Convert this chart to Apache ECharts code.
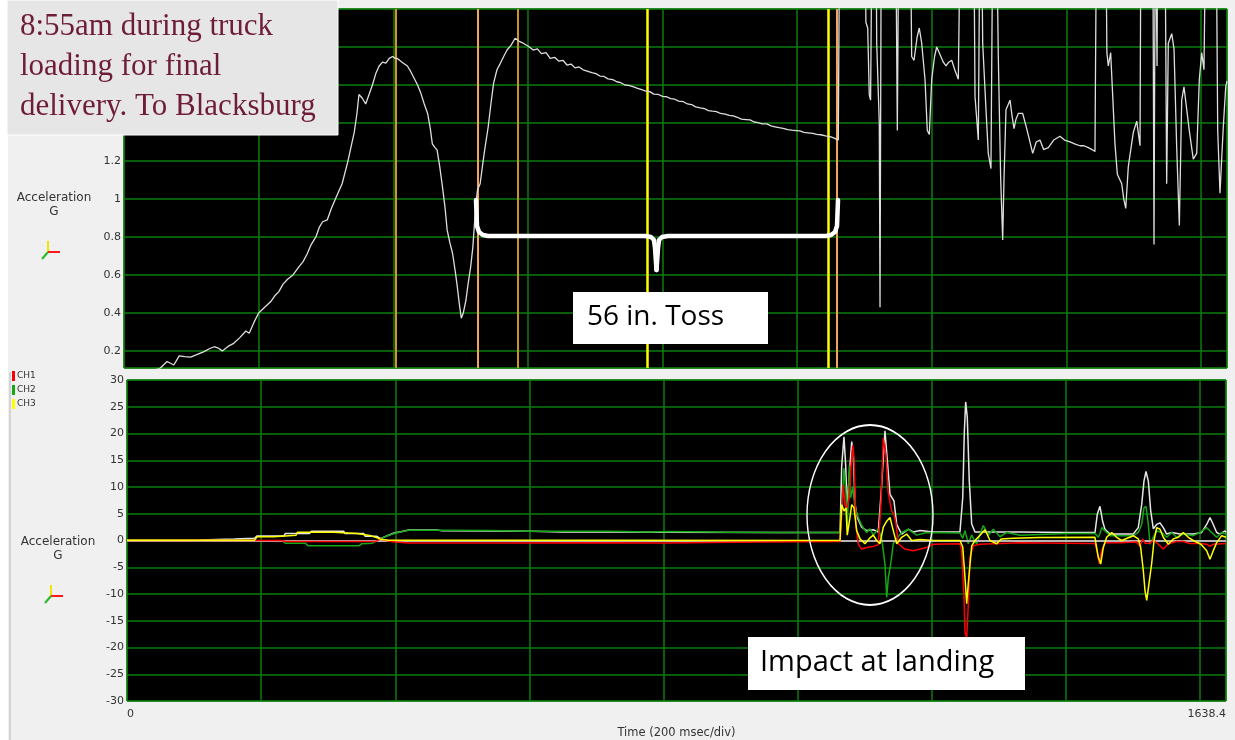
<!DOCTYPE html>
<html>
<head>
<meta charset="utf-8">
<script src="https://cdn.jsdelivr.net/npm/echarts@6/dist/echarts.min.js"></script>
<style>
  html, body { margin: 0; padding: 0; background: #f0f0f0; }
  #main { width: 1235px; height: 740px; }
</style>
</head>
<body>
<div id="main"></div>
<script>
// top panel: resultant acceleration (G), zoomed, [time ms, G]
var resultantZoom = [
  [0,0.05],[30,0.08],[54,0.11],[64,0.144],[74,0.126],[82,0.174],[90,0.17],[99,0.167],[108,0.18],[119,0.196],
  [126,0.21],[134,0.222],[140,0.215],[146,0.2],[155,0.225],[163,0.24],[172,0.27],[181,0.305],[186,0.293],[193,0.35],
  [200,0.4],[209,0.43],[218,0.46],[224,0.49],[230,0.512],[236,0.55],[243,0.577],[251,0.6],[260,0.644],[266,0.67],
  [272,0.71],[278,0.76],[285,0.8],[290,0.85],[295,0.88],[302,0.89],[308,0.95],[314,1.0],[319,1.04],[324,1.08],
  [332,1.19],[337,1.27],[342,1.35],[346,1.45],[349,1.55],[354,1.53],[359,1.5],[364,1.55],[369,1.6],[374,1.66],
  [379,1.7],[384,1.72],[389,1.715],[394,1.74],[399,1.75],[403,1.74],[406,1.74],[413,1.72],[421,1.7],[426,1.67],
  [431,1.635],[436,1.6],[441,1.556],[446,1.5],[451,1.45],[455,1.37],[458,1.29],[462,1.27],[465,1.258],[469,1.17],
  [473,1.065],[477,0.95],[480,0.837],[484,0.77],[488,0.714],[492,0.62],[495,0.54],[498,0.45],[501,0.372],[504,0.4],
  [508,0.468],[511,0.55],[515,0.644],[518,0.74],[520,0.837],[522,0.94],[525,1.047],[529,1.08],[535,1.24],[541,1.38],
  [545,1.5],[549,1.61],[554,1.68],[559,1.714],[564,1.75],[569,1.784],[575,1.81],[581,1.846],[587,1.83],[593,1.82],
  [600,1.805],[608,1.784],[614,1.79],[620,1.765],[627,1.77],[633,1.74],[640,1.745],[646,1.725],[652,1.73],[658,1.705],
  [664,1.71],[670,1.69],[676,1.695],[682,1.68],[689,1.672],[695,1.665],[701,1.66],[707,1.647],[713,1.645],[719,1.632],
  [726,1.628],[732,1.617],[738,1.612],[744,1.6],[750,1.598],[757,1.59],[763,1.582],[769,1.575],[775,1.568],[781,1.565],
  [787,1.552],[794,1.55],[800,1.54],[806,1.538],[812,1.528],[818,1.525],[824,1.515],[831,1.512],[837,1.5],[843,1.497],
  [849,1.485],[856,1.48],[862,1.476],[868,1.465],[874,1.462],[880,1.46],[886,1.45],[893,1.446],[899,1.44],[905,1.437],
  [911,1.43],[917,1.42],[924,1.418],[930,1.416],[936,1.405],[942,1.402],[948,1.395],[955,1.395],[961,1.385],[967,1.38],
  [973,1.375],[979,1.372],[986,1.365],[992,1.362],[998,1.36],[1004,1.358],[1010,1.35],[1016,1.348],[1023,1.345],[1029,1.34],
  [1035,1.338],[1042,1.332],[1049,1.328],[1055,1.32],[1061,1.31],
  [1064,3.0],[1100,3.0],[1102,1.93],[1104.7,1.9],[1107,1.55],[1109,1.52],[1111,2.4],[1117,2.4],[1118.1,1.82],[1121.9,1.4],
  [1123,0.43],[1125,2.6],[1146,2.6],[1148.7,1.36],[1151,2.5],[1168,2.5],[1170,1.75],[1173.5,1.73],[1178,1.85],[1181.3,1.9],
  [1184.9,1.82],[1189.8,1.63],[1193.2,1.36],[1196.2,1.34],[1199.8,1.63],[1204,1.75],[1207.2,1.8],[1212.1,1.76],[1217,1.72],[1221,1.7],
  [1225,1.72],[1229.5,1.73],[1234,1.68],[1239.3,1.63],[1242.8,2.6],[1262,2.6],[1264.1,1.54],[1269,1.31],[1271.5,2.5],[1274,2.4],
  [1275.5,1.82],[1280,1.5],[1283.8,1.24],[1287.8,1.16],[1290.4,2.4],[1296.3,2.4],[1298.7,1.75],[1302.2,1.11],[1305.2,0.784],[1307.2,1.11],
  [1310.1,1.47],[1316.1,1.52],[1319,1.44],[1322,1.37],[1325,1.42],[1328.4,1.45],[1334.9,1.45],[1340.9,1.37],[1349.8,1.24],[1355,1.3],
  [1360.6,1.31],[1366,1.26],[1373,1.27],[1381,1.31],[1390.3,1.33],[1397,1.31],[1405.2,1.3],[1412,1.29],[1420,1.28],[1426,1.28],
  [1432.4,1.27],[1438,1.26],[1442.3,1.25],[1444.8,2.6],[1458,2.6],[1460,1.77],[1462.1,1.7],[1465.6,1.77],[1472,1.29],[1475.5,1.13],
  [1482,1.08],[1485,1.0],[1488,0.95],[1491.8,1.17],[1499.2,1.35],[1504.3,1.41],[1509.2,1.28],[1510.7,2.6],[1528,2.6],[1530,0.76],
  [1532,2.6],[1533,2.6],[1534.5,1.7],[1535.5,2.6],[1546,2.6],[1548.8,1.08],[1551.2,1.82],[1556.3,1.87],[1559.7,1.79],[1563.7,1.27],
  [1567.6,0.86],[1571.1,1.52],[1574.5,1.59],[1582.4,1.36],[1588.3,1.21],[1593.4,1.24],[1597.3,1.63],[1600.8,1.77],[1604.2,1.68],[1607.2,2.6],
  [1622,2.6],[1624.6,1.36],[1628,1.03],[1630.5,1.21],[1632.9,1.38],[1636.5,1.59],[1638.4,1.62]
];
var cursorTimes = [404, 526, 585, 777, 1046, 1059];
var cursorColors = ['#d8922c', '#f4a35a', '#c8922c', '#ffff00', '#ffff00', '#f4a35a'];
var cursorWidths = [2, 2, 2, 2.5, 2.5, 2];

// bottom panel: [time ms, G]
var resultant = [
  [0,0.05],[108,0.1],[160,0.3],[190,0.43],[194,0.86],[234,0.86],[236,1.3],[272,1.3],[275,1.73],[323,1.73],
  [325,1.3],[353,1.3],[355,0.8],[372,0.8],[378,0.35],[388,0.9],[398,1.4],[408,1.65],[420,1.95],[462,1.95],
  [470,1.8],[543,1.78],[602,1.75],[650,1.6],[722,1.58],[805,1.55],[969,1.5],[1063,1.48],
  [1065.5,14],[1068.9,19.4],[1071.4,14],[1073.8,6.1],[1075.9,10.5],[1077.8,14],[1080.4,18.5],[1082.8,16],[1085.3,6.9],[1088.7,4.3],
  [1095.3,2.5],[1102.7,1.85],[1112.6,2.0],[1120,1.6],[1125.1,10.4],[1130,20.5],[1134.1,14],[1137.5,8.6],[1143.4,7.4],[1147.5,3.0],
  [1154.9,1.2],[1164.8,2.1],[1172.2,1.6],[1182.2,1.85],[1202,1.6],[1241.8,1.6],[1245.9,8],[1248.3,20.3],[1250.3,25.9],[1252.7,23],
  [1255.7,11.1],[1259.3,3.1],[1264.2,1.6],[1281.6,1.6],[1331.3,1.6],[1400,1.5],[1443.1,1.5],[1446.5,4.9],[1450.5,6.4],[1454.6,3.5],
  [1458,2.1],[1465.5,1.2],[1480.4,1.2],[1500.2,1.2],[1507.6,2.4],[1512.7,6.7],[1516.1,11.1],[1519.1,12.9],[1522.6,11.1],[1526.1,5.6],
  [1530,2.2],[1535.1,3.0],[1540,3.3],[1544.9,2.4],[1550,1.2],[1557.4,1.5],[1569.8,1.2],[1589.6,1.2],[1602.2,1.5],[1609.6,3.0],
  [1614.5,4.3],[1619.4,3.0],[1624.5,1.5],[1629.4,1.2],[1636.9,1.8],[1638.4,1.5]
];
var ch1 = [
  [0,0.0],[120,0.05],[230,0.0],[236,-0.2],[370,-0.2],[378,0.25],[390,-0.1],[400,-0.3],[420,-0.45],[560,-0.45],
  [700,-0.4],[800,-0.45],[900,-0.35],[1000,-0.25],[1063,-0.2],
  [1066,6],[1067.9,10.4],[1070.4,6.5],[1072.9,6.1],[1076.8,8],[1079.5,14],[1081.9,17.8],[1083.8,15.4],[1086.8,2.8],[1090.2,-0.7],
  [1095.3,-1.6],[1102.7,-1.3],[1112.6,-1.1],[1120,-0.8],[1124,6.9],[1127.5,19.1],[1131.5,16],[1134.7,9.1],[1140,5.5],[1143.4,4.9],
  [1146.4,3.1],[1149.9,-0.6],[1159.8,-1.6],[1172.2,-1.9],[1192.2,-1.3],[1202,-0.7],[1241.8,-0.6],[1244.3,-1.9],[1247.8,-10.6],[1249.3,-17],
  [1251.8,-18.5],[1254.2,-12],[1256.7,-3.1],[1261.7,-1.0],[1271.6,-0.7],[1331.3,-0.4],[1400,-0.5],[1443.1,-0.56],[1446,-1.9],[1449.5,-4.3],
  [1453.1,-1.9],[1458,-0.4],[1480.4,-0.4],[1505.2,-0.3],[1510.2,-1.1],[1514.2,0.3],[1517.6,-0.5],[1525.1,-0.5],[1530,0.1],[1537.5,-0.7],
  [1544.9,-1.6],[1552.4,-0.6],[1564.9,-0.2],[1574.7,-0.2],[1584.7,-0.56],[1600,-0.56],[1609.6,-0.7],[1614.5,-1.1],[1619.4,-0.7],[1638.4,-0.56]
];
var ch2 = [
  [0,0.05],[120,0.0],[194,-0.05],[232,-0.1],[236,-0.5],[266,-0.5],[270,-1.0],[346,-1.0],[350,-0.6],[366,-0.5],
  [378,0.3],[388,0.86],[398,1.3],[408,1.6],[420,1.9],[470,1.9],[540,1.88],[600,1.75],[720,1.72],[780,1.6],
  [806,1.66],[900,1.55],[969,1.48],[1063,1.48],
  [1065.5,6.1],[1068.9,13.5],[1071.9,8.8],[1073.8,2.5],[1076.8,14],[1078.9,8],[1081.9,10],[1085.3,6.1],[1090.2,4.3],[1095.3,2.8],
  [1102.7,1.5],[1107.7,2.2],[1112.6,1.0],[1120,2.2],[1125.1,0.4],[1127.5,-2],[1130,-4.4],[1132.6,-10.6],[1135,-6.9],[1138.5,-4.4],
  [1142.4,-0.6],[1147.5,0.4],[1154.9,1.5],[1164.8,2.1],[1177.3,1.0],[1192.2,1.5],[1241.8,1.4],[1245.9,0.4],[1249.3,1.85],[1254.2,-0.6],
  [1259.3,1.0],[1264.2,-0.2],[1266.7,-0.6],[1276.6,2.8],[1284,1.0],[1291.5,2.1],[1301.5,0.7],[1311.5,1.5],[1331.3,1.0],[1400,1.3],
  [1443.1,1.3],[1448,0.6],[1450.5,1.3],[1453.1,2.4],[1458,1.8],[1465.5,0.9],[1500.2,0.9],[1507.6,1.5],[1512.7,3.0],[1516.1,6.1],
  [1519.1,6.4],[1522.6,3.0],[1525.1,-0.7],[1530,0.6],[1535.1,1.8],[1542.5,1.5],[1550,0.6],[1557.4,1.5],[1564.9,0.6],[1574.7,1.2],
  [1589.6,0.9],[1599.6,1.5],[1609.6,2.4],[1617.1,1.5],[1624.5,0.6],[1632,1.5],[1638.4,1.2]
];
var ch3 = [
  [0,0.05],[190,0.05],[194,0.68],[219,0.68],[220,0.99],[252,0.99],[254,1.54],[308,1.54],[310,1.3],[343,1.3],
  [345,0.93],[362,0.93],[364,0.56],[372,0.56],[378,0.25],[390,0.05],[700,0.05],[1063,0.0],
  [1065.5,6.7],[1068.9,5.5],[1071.9,6.1],[1073.8,1.0],[1077.8,4.3],[1080.4,6.7],[1083.8,6.1],[1087.8,1.85],[1092.8,0.3],[1100.2,-0.6],
  [1107.7,0.5],[1112.6,1.0],[1117.6,0.0],[1122.6,-0.6],[1127.5,2.5],[1132.6,3.6],[1137.5,4.3],[1142.4,1.85],[1147.5,-0.6],[1154.9,0.6],
  [1162.4,1.2],[1169.8,0.0],[1182.2,0.2],[1202,0.0],[1241.8,0.0],[1245.9,-1.2],[1249.3,-6.9],[1251.8,-11.8],[1254.2,-8],[1259.3,-1.0],
  [1264.2,0.0],[1271.6,1.0],[1279.1,2.0],[1286.6,0.0],[1296.6,-0.6],[1303.3,0.3],[1321.3,0.4],[1360,0.55],[1443.1,0.6],[1444.6,-0.7],
  [1448,-3.1],[1451.6,-4.4],[1455.5,-1.3],[1460.5,0.6],[1468,1.5],[1475.4,0.6],[1482.9,0.0],[1500.2,0.9],[1507.6,0.3],[1511.2,-1.3],
  [1515.1,-5.6],[1517.6,-9.3],[1520.2,-11.2],[1523.6,-8],[1527.6,-4.3],[1531.1,0.0],[1535.1,2.4],[1540,2.1],[1544.9,0.6],[1552.4,-0.7],
  [1559.8,0.3],[1567.3,0.6],[1574.7,1.5],[1582.2,0.6],[1589.6,0.0],[1601,-0.7],[1609.6,-1.9],[1614.5,-3.5],[1619.4,-1.9],[1624.5,-0.4],
  [1632,0.9],[1638.4,0.6]
];
var timeMax = 1638.4;

var gridGreen = '#0b7d0b';
var tickFont = { fontFamily: 'DejaVu Sans', fontSize: 11, color: '#333' };

var myChart = echarts.init(document.getElementById('main'));

function axisIcon(x, y) {
  return [
    { type: 'line', z: 50, shape: { x1: x, y1: y, x2: x, y2: y - 11 }, style: { stroke: '#f2e600', lineWidth: 2 } },
    { type: 'line', z: 50, shape: { x1: x, y1: y, x2: x + 12, y2: y }, style: { stroke: '#ff1a1a', lineWidth: 2 } },
    { type: 'line', z: 50, shape: { x1: x, y1: y, x2: x - 6, y2: y + 7 }, style: { stroke: '#22bb22', lineWidth: 2 } }
  ];
}

var braceStyle = { stroke: '#ffffff', lineWidth: 4.5, fill: null, lineJoin: 'round', lineCap: 'round' };

var graphics = [
  { type: 'rect', z: 40, shape: { x: 0, y: 0, width: 8, height: 740 }, style: { fill: '#ffffff' } },
  { type: 'line', z: 40, shape: { x1: 10, y1: 372, x2: 10, y2: 740 }, style: { stroke: '#b8b8b8', lineWidth: 1 } },
  // title box
  { type: 'rect', z: 100, shape: { x: 7, y: 0, width: 331, height: 135 }, style: { fill: '#e6e6e6', stroke: '#ffffff', lineWidth: 1 } },
  { type: 'text', z: 101, style: { x: 20, y: 27, text: '8:55am during truck', font: '31px "Liberation Serif"', fill: '#6e1c3a', verticalAlign: 'middle' } },
  { type: 'text', z: 101, style: { x: 20, y: 67, text: 'loading for final', font: '31px "Liberation Serif"', fill: '#6e1c3a', verticalAlign: 'middle' } },
  { type: 'text', z: 101, style: { x: 20, y: 107, text: 'delivery. To Blacksburg', font: '31px "Liberation Serif"', fill: '#6e1c3a', verticalAlign: 'middle' } },
  // y axis captions
  { type: 'text', z: 50, style: { x: 54, y: 198, text: 'Acceleration', font: '12px "DejaVu Sans"', fill: '#333', align: 'center', verticalAlign: 'middle' } },
  { type: 'text', z: 50, style: { x: 54, y: 212, text: 'G', font: '12px "DejaVu Sans"', fill: '#333', align: 'center', verticalAlign: 'middle' } },
  { type: 'text', z: 50, style: { x: 58, y: 542, text: 'Acceleration', font: '12px "DejaVu Sans"', fill: '#333', align: 'center', verticalAlign: 'middle' } },
  { type: 'text', z: 50, style: { x: 58, y: 556, text: 'G', font: '12px "DejaVu Sans"', fill: '#333', align: 'center', verticalAlign: 'middle' } },
  // brace
  { type: 'polyline', z: 100, shape: { points: [[476, 200], [477, 226], [479, 232], [483, 235], [488, 236], [645, 236], [651, 237], [654, 240], [655, 248], [656.5, 270]] }, style: braceStyle },
  { type: 'polyline', z: 100, shape: { points: [[656.5, 270], [658, 248], [659, 240], [662, 237], [668, 236], [826, 236], [831, 235], [835, 232], [837, 226], [838, 200]] }, style: braceStyle },
  // toss label
  { type: 'rect', z: 100, shape: { x: 573, y: 292, width: 195, height: 52 }, style: { fill: '#ffffff' } },
  { type: 'text', z: 101, style: { x: 587, y: 317, text: '56 in. Toss', font: '28px "Open Sans"', fill: '#000', verticalAlign: 'middle' } },
  // impact ellipse (circle squeezed horizontally) + label
  { type: 'circle', z: 100, x: 870, y: 515, scaleX: 0.7, scaleY: 1, shape: { cx: 0, cy: 0, r: 90 },
    style: { stroke: '#ffffff', lineWidth: 2, fill: null, strokeNoScale: true } },
  { type: 'rect', z: 100, shape: { x: 748, y: 637, width: 277, height: 53 }, style: { fill: '#ffffff' } },
  { type: 'text', z: 101, style: { x: 760, y: 663, text: 'Impact at landing', font: '29px "Open Sans"', fill: '#000', verticalAlign: 'middle' } }
].concat(axisIcon(48, 252)).concat(axisIcon(51, 596));

myChart.setOption({
  animation: false,
  backgroundColor: '#f0f0f0',
  legend: {
    data: ['CH1', 'CH2', 'CH3'],
    orient: 'vertical',
    left: 12,
    top: 371,
    padding: 0,
    icon: 'rect',
    itemWidth: 3,
    itemHeight: 10,
    itemGap: 4,
    textStyle: { fontFamily: 'DejaVu Sans', fontSize: 9, color: '#333', padding: [0, 0, 0, -3] }
  },
  grid: [
    { left: 124, top: 9, width: 1103, height: 359, show: true, backgroundColor: '#000', borderColor: gridGreen, borderWidth: 1 },
    { left: 127, top: 380, width: 1099, height: 325, show: true, backgroundColor: '#000', borderColor: gridGreen, borderWidth: 1 }
  ],
  xAxis: [
    {
      gridIndex: 0, type: 'value', min: 0, max: timeMax, interval: 200,
      axisLine: { show: false }, axisTick: { show: false }, axisLabel: { show: false },
      splitLine: { lineStyle: { color: gridGreen, width: 1.5 } }
    },
    {
      gridIndex: 1, type: 'value', min: 0, max: timeMax, interval: 200,
      name: 'Time (200 msec/div)', nameLocation: 'middle', nameGap: 26,
      nameTextStyle: { fontFamily: 'DejaVu Sans', fontSize: 11.5, color: '#333' },
      axisLine: { show: false }, axisTick: { show: false },
      axisLabel: Object.assign({
        margin: 8,
        alignMinLabel: 'left', alignMaxLabel: 'right',
        formatter: function (v) { return (v === 0 || v === timeMax) ? String(v) : ''; }
      }, tickFont),
      splitLine: { lineStyle: { color: gridGreen, width: 1.5 } }
    }
  ],
  yAxis: [
    {
      gridIndex: 0, type: 'value', min: 0.11, max: 2.0, splitNumber: 9, minInterval: 0.2, maxInterval: 0.2,
      axisLine: { show: false }, axisTick: { show: false },
      axisLabel: Object.assign({ margin: 3, showMinLabel: false }, tickFont),
      splitLine: { lineStyle: { color: gridGreen, width: 1.5 } }
    },
    {
      gridIndex: 1, type: 'value', min: -30, max: 30, interval: 5,
      axisLine: { show: false }, axisTick: { show: false },
      axisLabel: Object.assign({ margin: 3 }, tickFont),
      splitLine: { lineStyle: { color: gridGreen, width: 1.5 } }
    }
  ],
  series: [
    {
      name: 'Resultant', type: 'line', xAxisIndex: 0, yAxisIndex: 0,
      data: resultantZoom, showSymbol: false, clip: true, z: 3,
      lineStyle: { color: '#dedede', width: 1.3 },
      markLine: {
        silent: true, symbol: 'none', label: { show: false }, z: 2,
        data: cursorTimes.map(function (t, i) {
          return { xAxis: t, lineStyle: { color: cursorColors[i], width: cursorWidths[i], type: 'solid' } };
        })
      }
    },
    {
      name: 'Resultant (full)', type: 'line', xAxisIndex: 1, yAxisIndex: 1,
      data: resultant, showSymbol: false, clip: true, z: 3,
      itemStyle: { color: '#e6e6e6' },
      lineStyle: { color: '#e6e6e6', width: 1.5 },
      markLine: {
        silent: true, symbol: 'none', label: { show: false },
        data: [{ yAxis: 0 }],
        lineStyle: { color: '#b4b4b4', width: 2, type: 'solid' }
      }
    },
    {
      name: 'CH2', type: 'line', xAxisIndex: 1, yAxisIndex: 1,
      data: ch2, showSymbol: false, clip: true, z: 4,
      itemStyle: { color: '#15a815' }, lineStyle: { color: '#15a815', width: 1.5 }
    },
    {
      name: 'CH1', type: 'line', xAxisIndex: 1, yAxisIndex: 1,
      data: ch1, showSymbol: false, clip: true, z: 5,
      itemStyle: { color: '#ff0000' }, lineStyle: { color: '#ff0000', width: 1.5 }
    },
    {
      name: 'CH3', type: 'line', xAxisIndex: 1, yAxisIndex: 1,
      data: ch3, showSymbol: false, clip: true, z: 6,
      itemStyle: { color: '#ffff00' }, lineStyle: { color: '#ffff00', width: 1.5 }
    }
  ],
  graphic: graphics
});
</script>
</body>
</html>
